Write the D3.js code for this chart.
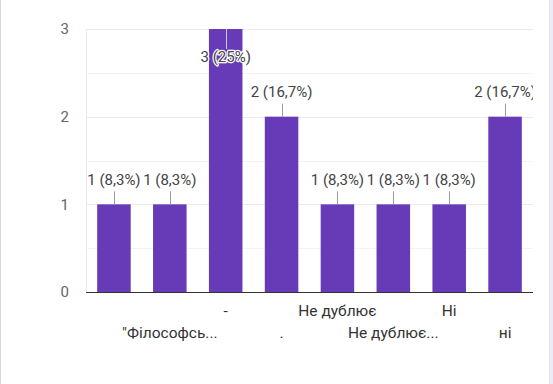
<!DOCTYPE html>
<html><head><meta charset="utf-8">
<script src="https://cdn.jsdelivr.net/npm/d3@7"></script>
<style>
html,body{margin:0;padding:0;background:#fff;}
svg{display:block;font-family:Roboto,"Noto Sans",sans-serif;}
</style></head>
<body><svg id="c" width="553" height="384"></svg>
<script>
const categories = ["c1","c2","c3","c4","c5","c6","c7","c8"];
const values = [1,1,3,2,1,1,1,2];
const valueLabels = ["1 (8,3%)","1 (8,3%)","3 (25%)","2 (16,7%)","1 (8,3%)","1 (8,3%)","1 (8,3%)","2 (16,7%)"];
const tickLabels = ["", "\"Філософсь...", "-", ".", "Не дублює", "Не дублює...", "Ні", "ні"];
const tickRows = [0,1,0,1,0,1,0,1];
const yTicks = [0,1,2,3];
const yMinor = [0.5,1.5,2.5];

(function(){
const svg = d3.select("#c");
svg.append("rect").attr("x",550).attr("y",0).attr("width",3).attr("height",384).attr("fill","#eceaf3");
svg.append("line").attr("x1",549.5).attr("x2",549.5).attr("y1",0).attr("y2",384).attr("stroke","#e2e2e8");
svg.append("line").attr("x1",0.5).attr("x2",0.5).attr("y1",0).attr("y2",384).attr("stroke","#d8d8d8");

const pL=86, pR=533, pT=29, pB=292;
const x = d3.scaleBand().domain(categories).range([pL,pR]).paddingInner(0.4).paddingOuter(0.2);
const y = d3.scaleLinear().domain([0,3]).range([pB,pT]);

svg.append("g").selectAll("line").data(yMinor).join("line")
  .attr("x1",pL).attr("x2",pR).attr("y1",d=>Math.round(y(d))+0.5).attr("y2",d=>Math.round(y(d))+0.5)
  .attr("stroke","#f3f3f3");
svg.append("g").selectAll("line").data(yTicks.filter(d=>d>0)).join("line")
  .attr("x1",pL).attr("x2",pR).attr("y1",d=>Math.round(y(d))+0.5).attr("y2",d=>Math.round(y(d))+0.5)
  .attr("stroke","#ebebeb");
svg.append("line").attr("x1",pL+0.5).attr("x2",pL+0.5).attr("y1",pT).attr("y2",pB).attr("stroke","#ebebeb");

svg.append("g").selectAll("text").data(yTicks).join("text")
  .attr("x",69).attr("y",d=>y(d)).attr("dy","0.35em").attr("text-anchor","end")
  .attr("fill","#666").attr("font-size",15).text(d=>d);

svg.append("g").selectAll("rect").data(values).join("rect")
  .attr("x",(d,i)=>x(categories[i])).attr("width",x.bandwidth())
  .attr("y",d=>y(d)).attr("height",d=>pB-y(d)).attr("fill","#673ab7");

svg.append("line").attr("x1",pL).attr("x2",pR).attr("y1",pB+0.5).attr("y2",pB+0.5).attr("stroke","#333").attr("stroke-width",1.2);

svg.append("clipPath").attr("id","clipL").append("rect").attr("x",0).attr("y",0).attr("width",pR).attr("height",384);
const lg = svg.append("g").attr("clip-path","url(#clipL)");
values.forEach((v,i)=>{
  const cx = x(categories[i]) + x.bandwidth()/2;
  const inside = v===3;
  const ty = inside ? y(v)+28 : y(v)-25;
  const lineTop = inside ? y(v) : y(v)-13;
  const lineBot = inside ? y(v)+20 : y(v);
  lg.append("line").attr("x1",Math.round(cx)+0.5).attr("x2",Math.round(cx)+0.5)
    .attr("y1",lineTop).attr("y2",lineBot).attr("stroke",inside?"#cfc6e6":"#999");
  const t = lg.append("text").attr("x",cx).attr("y",ty).attr("dy","0.35em")
    .attr("text-anchor","middle").attr("font-size",15).attr("fill","#444").text(valueLabels[i]);
  if(inside) t.attr("stroke","#fff").attr("stroke-width",2.5).attr("paint-order","stroke").attr("stroke-linejoin","round");
});

svg.append("g").selectAll("text").data(tickLabels).join("text")
  .attr("x",(d,i)=>x(categories[i])+x.bandwidth()/2)
  .attr("y",(d,i)=>tickRows[i]===0?311:333).attr("dy","0.35em")
  .attr("text-anchor","middle").attr("font-size",15.5).attr("fill","#333").text(d=>d);
})();
</script></body></html>
